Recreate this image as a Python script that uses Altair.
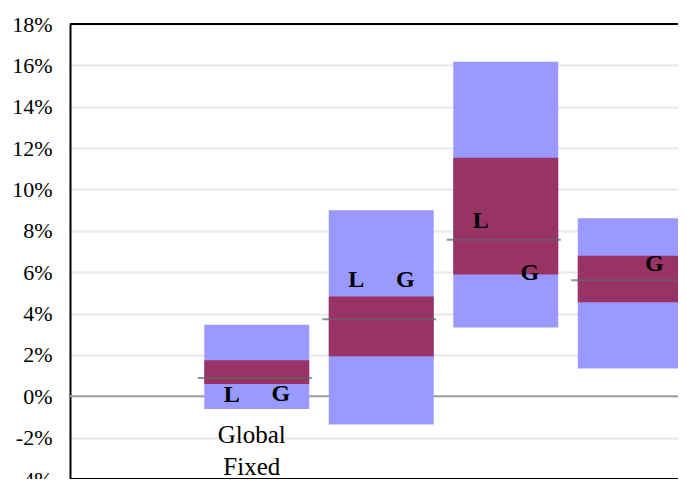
import altair as alt
import pandas as pd

# category slots along the x axis (first slot is empty in the reference)
x_slots = ["s0", "s1", "s2", "s3", "s4"]
slot_labels = ["", "Global\nFixed", "", "", ""]

# floating bars (values in %)
bar_slots = ["s1", "s2", "s3", "s4"]
outer_low = [-0.61, -1.37, 3.32, 1.34]
outer_high = [3.46, 9.00, 16.17, 8.61]
inner_low = [0.59, 1.93, 5.89, 4.55]
inner_high = [1.74, 4.83, 11.53, 6.79]
mid_line = [0.88, 3.72, 7.57, 5.61]

# marker letters (baseline position in %)
l_pos = [-0.29, 5.26, 8.13, None]
g_pos = [-0.21, 5.26, 5.61, 6.06]

y_ticks = [-4, -2, 0, 2, 4, 6, 8, 10, 12, 14, 16, 18]

bars = pd.DataFrame({
    "slot": bar_slots,
    "olow": outer_low, "ohigh": outer_high,
    "ilow": inner_low, "ihigh": inner_high,
    "mid": mid_line,
})
lab_l = pd.DataFrame({"slot": bar_slots, "y": l_pos, "t": "L"}).dropna()
lab_g = pd.DataFrame({"slot": bar_slots, "y": g_pos, "t": "G"}).dropna()
cats = pd.DataFrame({"slot": x_slots, "label": slot_labels})
cats = cats[cats["label"] != ""]

FONT = "Liberation Serif"

xscale = alt.Scale(domain=x_slots, range=[0, 622.5], paddingInner=0.157, paddingOuter=0.0785)
yscale = alt.Scale(domain=[-4, 18], nice=False, zero=False)

X = alt.X("slot:N", scale=xscale, axis=None)

base = alt.Chart(bars)

outer = base.mark_bar(color="#9999FF", clip=True).encode(
    x=X,
    y=alt.Y("olow:Q", scale=yscale, title=None,
            axis=alt.Axis(values=y_ticks, labelExpr="datum.value + '%'",
                          labelFont=FONT, labelFontSize=22, labelColor="black",
                          labelPadding=18, ticks=False, tickSize=0,
                          domainColor="black", domainWidth=2,
                          gridColor="#e8e8e8", gridWidth=2)),
    y2="ohigh:Q",
)
inner = base.mark_bar(color="#993366", clip=True).encode(
    x=X, y=alt.Y("ilow:Q", scale=yscale), y2="ihigh:Q"
)
midl = base.mark_tick(color="#646464", thickness=2, size=114, xOffset=-2, clip=True).encode(
    x=X, y=alt.Y("mid:Q", scale=yscale)
)

zero = alt.Chart(pd.DataFrame({"v": [0]})).mark_rule(color="#a0a0a0", strokeWidth=2).encode(
    y=alt.Y("v:Q", scale=yscale)
)
borders = alt.Chart(pd.DataFrame({"v": [18, -4]})).mark_rule(color="black", strokeWidth=2).encode(
    y=alt.Y("v:Q", scale=yscale)
)

txt_l = alt.Chart(lab_l).mark_text(font=FONT, fontSize=24, fontWeight="bold", color="black",
                                   align="center", baseline="alphabetic", dx=-25).encode(
    x=X, y=alt.Y("y:Q", scale=yscale), text="t:N"
)
txt_g = alt.Chart(lab_g).mark_text(font=FONT, fontSize=24, fontWeight="bold", color="black",
                                   align="center", baseline="alphabetic", dx=24).encode(
    x=X, y=alt.Y("y:Q", scale=yscale), text="t:N"
)
cat_txt = alt.Chart(cats).mark_text(font=FONT, fontSize=25, color="black", align="center",
                                    baseline="alphabetic", dx=-5, lineBreak="\n",
                                    lineHeight=31.5).encode(
    x=X, y=alt.datum(-2.28, scale=yscale), text="label:N"
)

chart = alt.layer(zero, outer, inner, midl, txt_l, txt_g, cat_txt, borders).properties(
    width=608, height=455,
    autosize=alt.AutoSizeParams(type="none"),
    padding={"left": 62, "top": 16, "right": 0, "bottom": 0},
).configure_view(stroke=None)

chart.save("out.html", embed_options={"renderer": "svg", "actions": False})
